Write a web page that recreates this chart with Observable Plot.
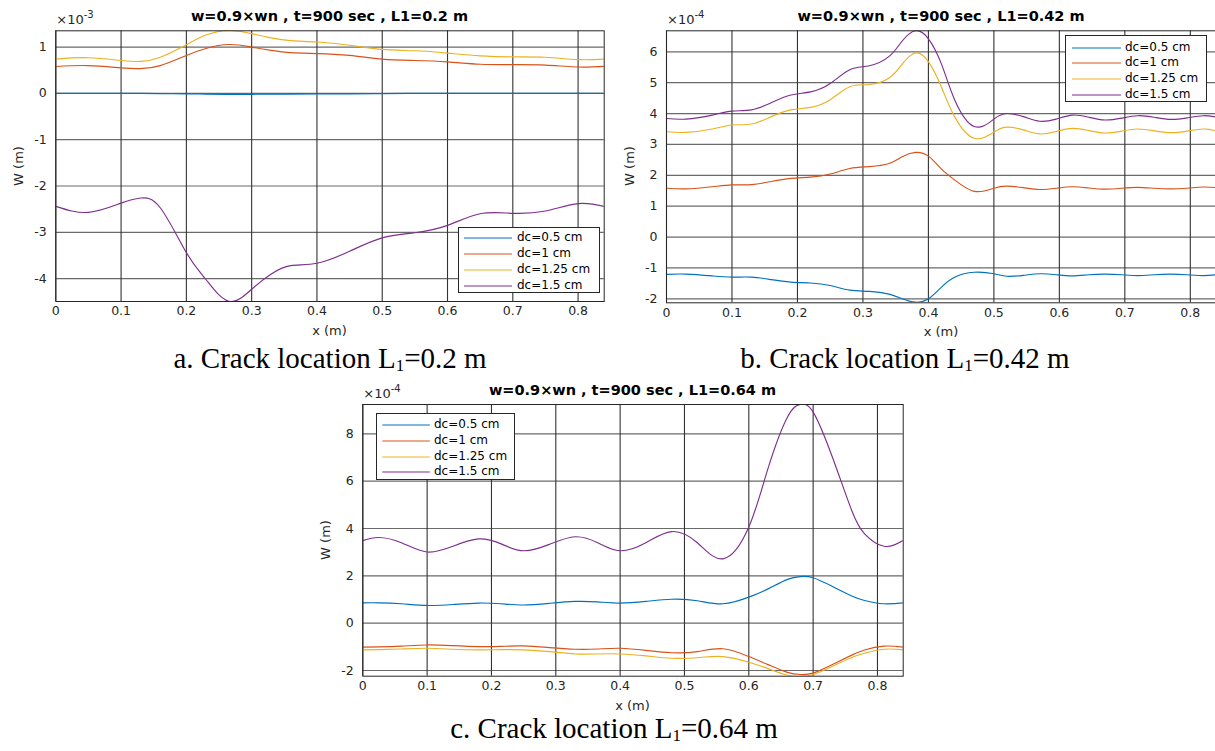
<!DOCTYPE html>
<html>
<head>
<meta charset="utf-8">
<script src="https://cdn.jsdelivr.net/npm/d3@7"></script>
<script src="https://cdn.jsdelivr.net/npm/@observablehq/plot@0.6"></script>
<style>
  html, body { margin: 0; padding: 0; background: #fff; overflow: hidden; }
  #page { position: relative; width: 1215px; height: 751px; }
  .abs { position: absolute; white-space: nowrap; }
  .title { font: bold 14.5px "DejaVu Sans", sans-serif; color: #000; transform: translateX(-50%); }
  .xlab { font: 13px "DejaVu Sans", sans-serif; color: #262626; transform: translateX(-50%); }
  .ylab { font: 13px "DejaVu Sans", sans-serif; color: #262626; transform: translate(-50%, -50%) rotate(-90deg); }
  .expo { font: 13px "DejaVu Sans", sans-serif; color: #262626; }
  .expo sup { font-size: 10px; position: relative; top: -1px; }
  .cap { font: 29px "Liberation Serif", "Times New Roman", serif; color: #000; transform: translateX(-50%); }
  .cap sub { font-size: 17px; vertical-align: -3px; }
  .legend { background: #fff; border: 1px solid #262626; box-sizing: border-box; }
  .legend .row { position: absolute; left: 0; height: 16px; font: 12px "DejaVu Sans", sans-serif; color: #000; }
  svg.plot { position: absolute; overflow: visible; }
  svg.plot text { font-size: 12.5px !important; font-family: "DejaVu Sans", sans-serif !important; fill: #262626; }
</style>
</head>
<body>
<div id="page"></div>
<script>
// ---------------- data ----------------
const seriesNames = ["dc=0.5 cm", "dc=1 cm", "dc=1.25 cm", "dc=1.5 cm"];
const seriesColors = ["#0072BD", "#D95319", "#EDB120", "#7E2F8E"];
const xTicks = [0, 0.1, 0.2, 0.3, 0.4, 0.5, 0.6, 0.7, 0.8];

// Panel a: L1 = 0.2 m   (W in units of 1e-3 m)
const xA = [0, 0.05, 0.1, 0.13, 0.16, 0.2, 0.23, 0.265, 0.3, 0.33, 0.36, 0.4, 0.45, 0.5, 0.55, 0.6, 0.65, 0.7, 0.75, 0.8, 0.84];
const aDc05 = [0, 0, 0, 0, -0.005, -0.01, -0.015, -0.02, -0.02, -0.015, -0.015, -0.01, -0.01, -0.005, 0, 0, 0, 0, 0, 0, 0];
const aDc1 = [0.58, 0.60, 0.55, 0.535, 0.60, 0.82, 0.97, 1.055, 1.0, 0.93, 0.88, 0.86, 0.82, 0.74, 0.71, 0.68, 0.63, 0.62, 0.61, 0.57, 0.585];
const aDc125 = [0.74, 0.77, 0.71, 0.69, 0.78, 1.05, 1.26, 1.36, 1.29, 1.2, 1.14, 1.11, 1.04, 0.95, 0.92, 0.87, 0.81, 0.79, 0.78, 0.73, 0.74];
const aDc15 = [-2.44, -2.57, -2.37, -2.26, -2.47, -3.44, -4.02, -4.49, -4.23, -3.9, -3.72, -3.67, -3.41, -3.12, -3.01, -2.85, -2.6, -2.59, -2.54, -2.38, -2.44];
const aYTicks = [-4, -3, -2, -1, 0, 1];

// Panel b: L1 = 0.42 m  (W in units of 1e-4 m)
const xB = [0, 0.03, 0.07, 0.1, 0.13, 0.16, 0.19, 0.22, 0.25, 0.28, 0.31, 0.34, 0.36, 0.38, 0.4, 0.42, 0.44, 0.47, 0.5, 0.52, 0.545, 0.57, 0.595, 0.62, 0.645, 0.67, 0.695, 0.72, 0.745, 0.77, 0.795, 0.82, 0.84];
const bDc05 = [-1.21, -1.2, -1.26, -1.3, -1.3, -1.38, -1.46, -1.49, -1.57, -1.72, -1.76, -1.85, -2.0, -2.11, -2.0, -1.62, -1.3, -1.14, -1.19, -1.27, -1.24, -1.19, -1.22, -1.26, -1.22, -1.2, -1.22, -1.25, -1.22, -1.2, -1.22, -1.25, -1.22];
const bDc1 = [1.58, 1.56, 1.63, 1.69, 1.7, 1.8, 1.9, 1.94, 2.04, 2.22, 2.28, 2.38, 2.6, 2.74, 2.62, 2.2, 1.85, 1.48, 1.58, 1.65, 1.6, 1.54, 1.58, 1.63, 1.59, 1.55, 1.58, 1.61, 1.58, 1.56, 1.58, 1.62, 1.6];
const bDc125 = [3.41, 3.39, 3.5, 3.63, 3.66, 3.9, 4.12, 4.2, 4.45, 4.87, 4.94, 5.15, 5.6, 5.96, 5.68, 4.85, 3.9, 3.2, 3.4, 3.56, 3.47, 3.34, 3.42, 3.52, 3.45, 3.37, 3.43, 3.5, 3.44, 3.38, 3.43, 3.5, 3.44];
const bDc15 = [3.84, 3.82, 3.95, 4.08, 4.12, 4.35, 4.6, 4.7, 4.97, 5.42, 5.55, 5.85, 6.35, 6.68, 6.42, 5.6, 4.45, 3.58, 3.82, 4.0, 3.9, 3.75, 3.82, 3.95, 3.88, 3.79, 3.85, 3.93, 3.88, 3.81, 3.86, 3.93, 3.88];
const bYTicks = [-2, -1, 0, 1, 2, 3, 4, 5, 6];

// Panel c: L1 = 0.64 m  (W in units of 1e-4 m)
const xC = [0, 0.025, 0.06, 0.1, 0.14, 0.18, 0.215, 0.25, 0.29, 0.33, 0.365, 0.4, 0.44, 0.48, 0.52, 0.56, 0.6, 0.63, 0.66, 0.68, 0.7, 0.73, 0.76, 0.78, 0.81, 0.84];
const cDc05 = [0.86, 0.86, 0.82, 0.75, 0.79, 0.85, 0.82, 0.77, 0.84, 0.92, 0.9, 0.85, 0.92, 1.01, 0.95, 0.82, 1.1, 1.45, 1.85, 1.97, 1.92, 1.55, 1.15, 0.96, 0.82, 0.86];
const cDc1 = [-1.01, -1.0, -0.97, -0.92, -0.95, -0.99, -0.98, -0.96, -1.03, -1.1, -1.09, -1.06, -1.15, -1.25, -1.2, -1.08, -1.41, -1.75, -2.08, -2.17, -2.11, -1.75, -1.35, -1.13, -0.97, -1.01];
const cDc125 = [-1.13, -1.12, -1.09, -1.06, -1.1, -1.13, -1.12, -1.13, -1.2, -1.3, -1.3, -1.3, -1.38, -1.48, -1.46, -1.41, -1.65, -1.92, -2.2, -2.25, -2.17, -1.82, -1.45, -1.27, -1.1, -1.13];
const cDc15 = [3.49, 3.62, 3.4, 3.01, 3.25, 3.56, 3.35, 3.06, 3.33, 3.65, 3.4, 3.06, 3.4, 3.87, 3.4, 2.72, 4.06, 6.55, 8.7, 9.24, 8.92, 7.01, 4.76, 3.77, 3.25, 3.49];
const cYTicks = [-2, 0, 2, 4, 6, 8];

const titles = [
  "w=0.9×wn , t=900 sec , L1=0.2 m",
  "w=0.9×wn , t=900 sec , L1=0.42 m",
  "w=0.9×wn , t=900 sec , L1=0.64 m"
];
const captions = [["a. Crack location L", "=0.2 m"], ["b. Crack location L", "=0.42 m"], ["c. Crack location L", "=0.64 m"]];
const exponents = ["-3", "-4", "-4"];

// ---------------- drawing ----------------
const page = document.getElementById("page");
const fmt = d => (d < 0 ? "-" + Math.abs(d) : String(d));

function rows(xs, ys) {
  return ys.flatMap((arr, k) => arr.map((v, i) => ({x: xs[i], y: v, s: seriesNames[k]})));
}

function panel(cfg) {
  const {left, top, width, height, mL, mR, mT, mB, yDomain, yTicks, data} = cfg;
  const svg = Plot.plot({
    width, height,
    marginLeft: mL, marginRight: mR, marginTop: mT, marginBottom: mB,
    style: {fontFamily: "DejaVu Sans, sans-serif", fontSize: "12.5px", color: "#262626", background: "transparent"},
    x: {domain: [0, 0.84], ticks: xTicks, tickSize: 0, tickPadding: 5, label: null, tickFormat: fmt},
    y: {domain: yDomain, ticks: yTicks, tickSize: 0, tickPadding: 9, label: null, tickFormat: fmt},
    color: {domain: seriesNames, range: seriesColors},
    marks: [
      Plot.gridY(yTicks, {stroke: "#6a6a6a", strokeOpacity: 1, strokeWidth: 1.2}),
      Plot.gridX(xTicks, {stroke: "#333", strokeOpacity: 1, strokeWidth: 1.1}),
      Plot.line(data, {x: "x", y: "y", z: "s", stroke: "s", strokeWidth: 1.15, curve: "natural", clip: true}),
      Plot.frame({stroke: "#262626", strokeWidth: 1})
    ]
  });
  svg.classList.add("plot");
  svg.style.left = left + "px";
  svg.style.top = top + "px";
  page.appendChild(svg);
  const x0 = left + mL, x1 = left + width - mR, y0 = top + mT, y1 = top + height - mB;
  return {x0, x1, y0, y1, cx: (x0 + x1) / 2, cy: (y0 + y1) / 2};
}

function addText(cls, html, x, y) {
  const d = document.createElement("div");
  d.className = "abs " + cls;
  d.innerHTML = html;
  d.style.left = x + "px";
  d.style.top = y + "px";
  page.appendChild(d);
  return d;
}

function legend(x, y, w, h, rowYs, lineX0, lineX1, textX) {
  const box = document.createElement("div");
  box.className = "abs legend";
  Object.assign(box.style, {left: x + "px", top: y + "px", width: w + "px", height: h + "px"});
  seriesNames.forEach((name, i) => {
    const r = document.createElement("div");
    r.className = "row";
    r.style.top = (rowYs[i] - y - 8) + "px";
    r.style.width = "100%";
    r.innerHTML = `<svg width="${lineX1 - x + 2}" height="16" style="position:absolute;left:0;top:0">
      <line x1="${lineX0 - x}" x2="${lineX1 - x}" y1="8" y2="8" stroke="${seriesColors[i]}" stroke-width="1.2"/></svg>
      <span style="position:absolute;left:${textX - x}px;top:0px">${name}</span>`;
    box.appendChild(r);
  });
  page.appendChild(box);
}

const A = panel({left: 0, top: 0, width: 610, height: 330, mL: 55.3, mR: 6.3, mT: 30.3, mB: 29,
  yDomain: [-4.495, 1.352], yTicks: aYTicks, data: rows(xA, [aDc05, aDc1, aDc125, aDc15])});
const B = panel({left: 610, top: 0, width: 606, height: 330, mL: 56, mR: 0, mT: 30.3, mB: 27.7,
  yDomain: [-2.13, 6.68], yTicks: bYTicks, data: rows(xB, [bDc05, bDc1, bDc125, bDc15])});
const C = panel({left: 310, top: 374, width: 600, height: 330, mL: 52.3, mR: 7.3, mT: 30, mB: 28.3,
  yDomain: [-2.24, 9.24], yTicks: cYTicks, data: rows(xC, [cDc05, cDc1, cDc125, cDc15])});

[A, B, C].forEach((P, i) => {
  addText("title", titles[i], P.cx, P.y0 - 22);
  addText("xlab", "x (m)", P.cx, P.y1 + 22);
  addText("ylab", "W (m)", P.x0 - 37, P.cy);
  addText("expo", "×10<sup>" + exponents[i] + "</sup>", P.x0 + 1, P.y0 - 20);
});

addText("cap", captions[0][0] + "<sub>1</sub>" + captions[0][1], 330, 342);
addText("cap", captions[1][0] + "<sub>1</sub>" + captions[1][1], 905, 342);
addText("cap", captions[2][0] + "<sub>1</sub>" + captions[2][1], 614, 712);

legend(458, 227, 142, 66, [237, 253, 269, 285], 463, 511, 516);
legend(1065, 35, 142, 67, [46.6, 62.3, 78.2, 93.9], 1071, 1120, 1124);
legend(375.7, 413.3, 139, 67, [424, 440, 455.6, 471.3], 381, 428.5, 433);
</script>
</body>
</html>
